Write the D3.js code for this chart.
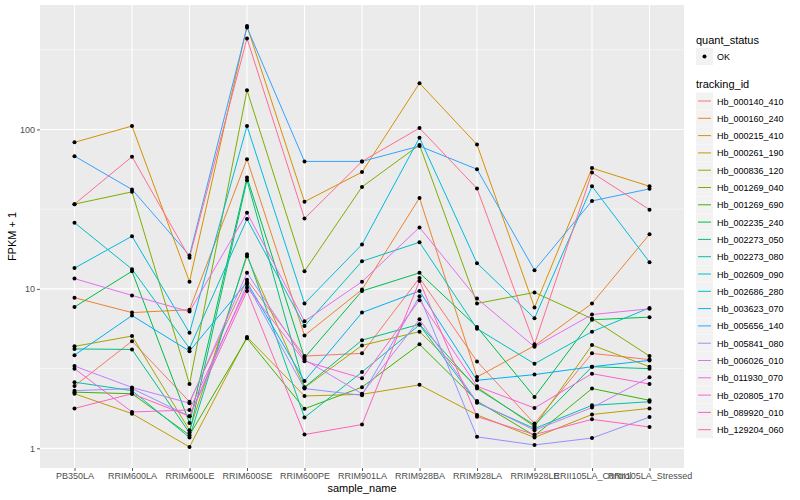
<!DOCTYPE html>
<html>
<head>
<meta charset="utf-8">
<script src="https://cdn.jsdelivr.net/npm/d3@7"></script>
<style>
  body { margin: 0; background: #fff; }
  text { font-family: "Liberation Sans", Arial, sans-serif; }
</style>
</head>
<body>
<div id="svg-area"></div>
<script>
var svgWidth = 800;
var svgHeight = 500;

// sample names on the x axis
var samples = ["PB350LA", "RRIM600LA", "RRIM600LE", "RRIM600SE", "RRIM600PE", "RRIM901LA",
  "RRIM928BA", "RRIM928LA", "RRIM928LE", "RRII105LA_Control", "RRII105LA_Stressed"];

// gene ids (legend order)
var trackingIds = ["Hb_000140_410", "Hb_000160_240", "Hb_000215_410", "Hb_000261_190", "Hb_000836_120",
  "Hb_001269_040", "Hb_001269_690", "Hb_002235_240", "Hb_002273_050", "Hb_002273_080",
  "Hb_002609_090", "Hb_002686_280", "Hb_003623_070", "Hb_005656_140", "Hb_005841_080",
  "Hb_006026_010", "Hb_011930_070", "Hb_020805_170", "Hb_089920_010", "Hb_129204_060"];

// FPKM + 1 values, one array per gene, in sample order
var hb000140_410 = [2.46, 4.7, 1.96, 11.4, 3.79, 3.94, 11.7, 3.51, 1.43, 3.94, 3.6];
var hb000160_240 = [8.8, 7.1, 7.4, 65, 5.1, 9.9, 37.2, 2.8, 4.4, 8.1, 22];
var hb000215_410 = [83, 105, 11.1, 445, 35.2, 54, 195, 80.4, 7.65, 57.2, 44];
var hb000261_190 = [2.2, 1.65, 1.02, 5.0, 2.13, 2.18, 2.5, 1.62, 1.17, 1.63, 1.78];
var hb000836_120 = [4.36, 5.06, 1.3, 16, 2.4, 4.42, 5.39, 2.42, 1.37, 4.44, 3.25];
var hb001269_040 = [34, 40.6, 2.53, 176, 12.9, 43.6, 80, 8.1, 9.5, 6.5, 3.79];
var hb001269_690 = [2.25, 2.2, 1.21, 4.9, 1.77, 2.42, 4.49, 1.98, 1.2, 2.37, 2.0];
var hb002235_240 = [7.7, 12.9, 1.44, 50, 3.7, 9.7, 12.6, 5.77, 2.1, 6.4, 6.65];
var hb002273_050 = [4.2, 4.17, 1.25, 48, 2.42, 4.77, 6.0, 2.37, 1.4, 3.25, 3.16];
var hb002273_080 = [2.6, 2.3, 1.17, 16.5, 1.56, 3.01, 5.95, 1.93, 1.33, 1.86, 1.96];
var hb002609_090 = [26, 13.3, 4.24, 27.4, 5.85, 14.9, 19.6, 5.63, 3.39, 5.39, 7.6];
var hb002686_280 = [13.5, 21.4, 5.3, 105, 8.1, 19, 88.7, 14.5, 6.54, 44, 14.7];
var hb003623_070 = [3.84, 6.8, 4.07, 11.0, 2.64, 7.1, 9.7, 2.67, 2.9, 3.25, 3.56];
var hb005656_140 = [68, 42, 16.2, 436, 63, 63, 78.6, 56.3, 13.1, 35.6, 42.4];
var hb005841_080 = [2.3, 2.37, 1.59, 10.7, 2.37, 2.15, 9.0, 1.18, 1.05, 1.16, 1.57];
var hb006026_010 = [3.28, 2.41, 1.92, 12.6, 3.6, 2.2, 6.44, 1.95, 1.3, 1.8, 2.79];
var hb011930_070 = [11.6, 9.1, 7.2, 30, 6.27, 11.1, 24.3, 8.7, 4.33, 6.9, 7.5];
var hb020805_170 = [3.16, 1.69, 1.74, 10.2, 3.52, 2.75, 8.5, 2.45, 1.79, 2.94, 2.53];
var hb089920_010 = [1.78, 2.2, 1.59, 9.7, 1.22, 1.41, 11.2, 1.58, 1.22, 1.52, 1.36];
var hb129204_060 = [34, 67.5, 15.7, 372, 27.6, 63, 102, 42.6, 4.5, 53.6, 31.4];

var seriesValues = [hb000140_410, hb000160_240, hb000215_410, hb000261_190, hb000836_120,
  hb001269_040, hb001269_690, hb002235_240, hb002273_050, hb002273_080,
  hb002609_090, hb002686_280, hb003623_070, hb005656_140, hb005841_080,
  hb006026_010, hb011930_070, hb020805_170, hb089920_010, hb129204_060];

var yTicks = [1, 10, 100];
var yMinor = [Math.sqrt(10), Math.sqrt(1000), Math.sqrt(100000)];

// ggplot default hue palette for 20 levels
var colors = ["#F8766D", "#EA8331", "#D89000", "#C09B00", "#A3A500", "#7CAE00", "#39B600", "#00BB4E",
  "#00BF7D", "#00C1A3", "#00BFC4", "#00BAE0", "#00B0F6", "#35A2FF", "#9590FF", "#C77CFF",
  "#E76BF3", "#FA62DB", "#FF62BC", "#FF6C91"];

var series = trackingIds.map(function(id, i) {
  return {
    id: id,
    values: samples.map(function(s, j) { return { sample: s, value: seriesValues[i][j] }; })
  };
});

var panel = { left: 40, right: 684, top: 5, bottom: 468 };

var svg = d3.select("#svg-area")
  .append("svg")
  .attr("width", svgWidth)
  .attr("height", svgHeight);

var xScale = d3.scalePoint()
  .domain(samples)
  .range([panel.left, panel.right])
  .padding(0.6);

// log scale, 5% expansion in log space like ggplot
var allValues = d3.merge(seriesValues);
var lo = Math.log10(d3.min(allValues));
var hi = Math.log10(d3.max(allValues));
var pad = (hi - lo) * 0.05;
var yScale = d3.scaleLog()
  .domain([Math.pow(10, lo - pad), Math.pow(10, hi + pad)])
  .range([panel.bottom, panel.top]);

var colorScale = d3.scaleOrdinal().domain(trackingIds).range(colors);

// panel background
svg.append("rect")
  .attr("x", panel.left)
  .attr("y", panel.top)
  .attr("width", panel.right - panel.left)
  .attr("height", panel.bottom - panel.top)
  .attr("fill", "#EBEBEB");

// grid lines
svg.append("g").selectAll("line")
  .data(yMinor)
  .enter().append("line")
  .attr("x1", panel.left).attr("x2", panel.right)
  .attr("y1", d => yScale(d)).attr("y2", d => yScale(d))
  .attr("stroke", "#fff").attr("stroke-width", 0.5);

svg.append("g").selectAll("line")
  .data(yTicks)
  .enter().append("line")
  .attr("x1", panel.left).attr("x2", panel.right)
  .attr("y1", d => yScale(d)).attr("y2", d => yScale(d))
  .attr("stroke", "#fff").attr("stroke-width", 1.1);

svg.append("g").selectAll("line")
  .data(samples)
  .enter().append("line")
  .attr("x1", d => xScale(d)).attr("x2", d => xScale(d))
  .attr("y1", panel.top).attr("y2", panel.bottom)
  .attr("stroke", "#fff").attr("stroke-width", 1.1);

// axes
var xAxis = d3.axisBottom(xScale).tickSize(3).tickPadding(2);
var gx = svg.append("g")
  .attr("transform", "translate(0," + panel.bottom + ")")
  .call(xAxis);

var yAxis = d3.axisLeft(yScale).tickValues(yTicks).tickFormat(d3.format("d")).tickSize(3).tickPadding(2);
var gy = svg.append("g")
  .attr("transform", "translate(" + panel.left + ",0)")
  .call(yAxis);

[gx, gy].forEach(function(g) {
  g.select(".domain").remove();
  g.selectAll(".tick line").attr("stroke", "#333").attr("stroke-width", 0.8);
  g.selectAll(".tick text").attr("fill", "#4D4D4D").style("font-size", "9px");
});

svg.append("text")
  .attr("x", (panel.left + panel.right) / 2)
  .attr("y", 492)
  .attr("text-anchor", "middle")
  .style("font-size", "11px")
  .text("sample_name");

svg.append("text")
  .attr("transform", "translate(16," + ((panel.top + panel.bottom) / 2) + ") rotate(-90)")
  .attr("text-anchor", "middle")
  .style("font-size", "11px")
  .text("FPKM + 1");

// lines
var lineGenerator = d3.line()
  .x(d => xScale(d.sample))
  .y(d => yScale(d.value));

svg.append("g").selectAll("path")
  .data(series)
  .enter().append("path")
  .attr("fill", "none")
  .attr("stroke", d => colorScale(d.id))
  .attr("stroke-width", 1)
  .attr("d", d => lineGenerator(d.values));

// points
svg.append("g").selectAll("g")
  .data(series)
  .enter().append("g")
  .selectAll("circle")
  .data(d => d.values)
  .enter().append("circle")
  .attr("cx", d => xScale(d.sample))
  .attr("cy", d => yScale(d.value))
  .attr("r", 2)
  .attr("fill", "#000");

// legend
var legend = svg.append("g").attr("transform", "translate(696,0)");

legend.append("text").attr("x", 0).attr("y", 44).style("font-size", "11px").text("quant_status");
legend.append("rect").attr("x", 0).attr("y", 48).attr("width", 17).attr("height", 17).attr("fill", "#F2F2F2");
legend.append("circle").attr("cx", 8.5).attr("cy", 56.5).attr("r", 2).attr("fill", "#000");
legend.append("text").attr("x", 21).attr("y", 60).style("font-size", "9px").text("OK");

legend.append("text").attr("x", 0).attr("y", 88).style("font-size", "11px").text("tracking_id");

var items = legend.selectAll(".item")
  .data(trackingIds)
  .enter().append("g")
  .attr("class", "item")
  .attr("transform", (d, i) => "translate(0," + (92.5 + i * 17.3) + ")");

items.append("rect").attr("width", 17).attr("height", 17).attr("fill", "#F2F2F2");
items.append("line")
  .attr("x1", 2).attr("x2", 15).attr("y1", 8.5).attr("y2", 8.5)
  .attr("stroke", d => colorScale(d)).attr("stroke-width", 1);
items.append("text")
  .attr("x", 21).attr("y", 12)
  .style("font-size", "9px")
  .text(d => d);
</script>
</body>
</html>
